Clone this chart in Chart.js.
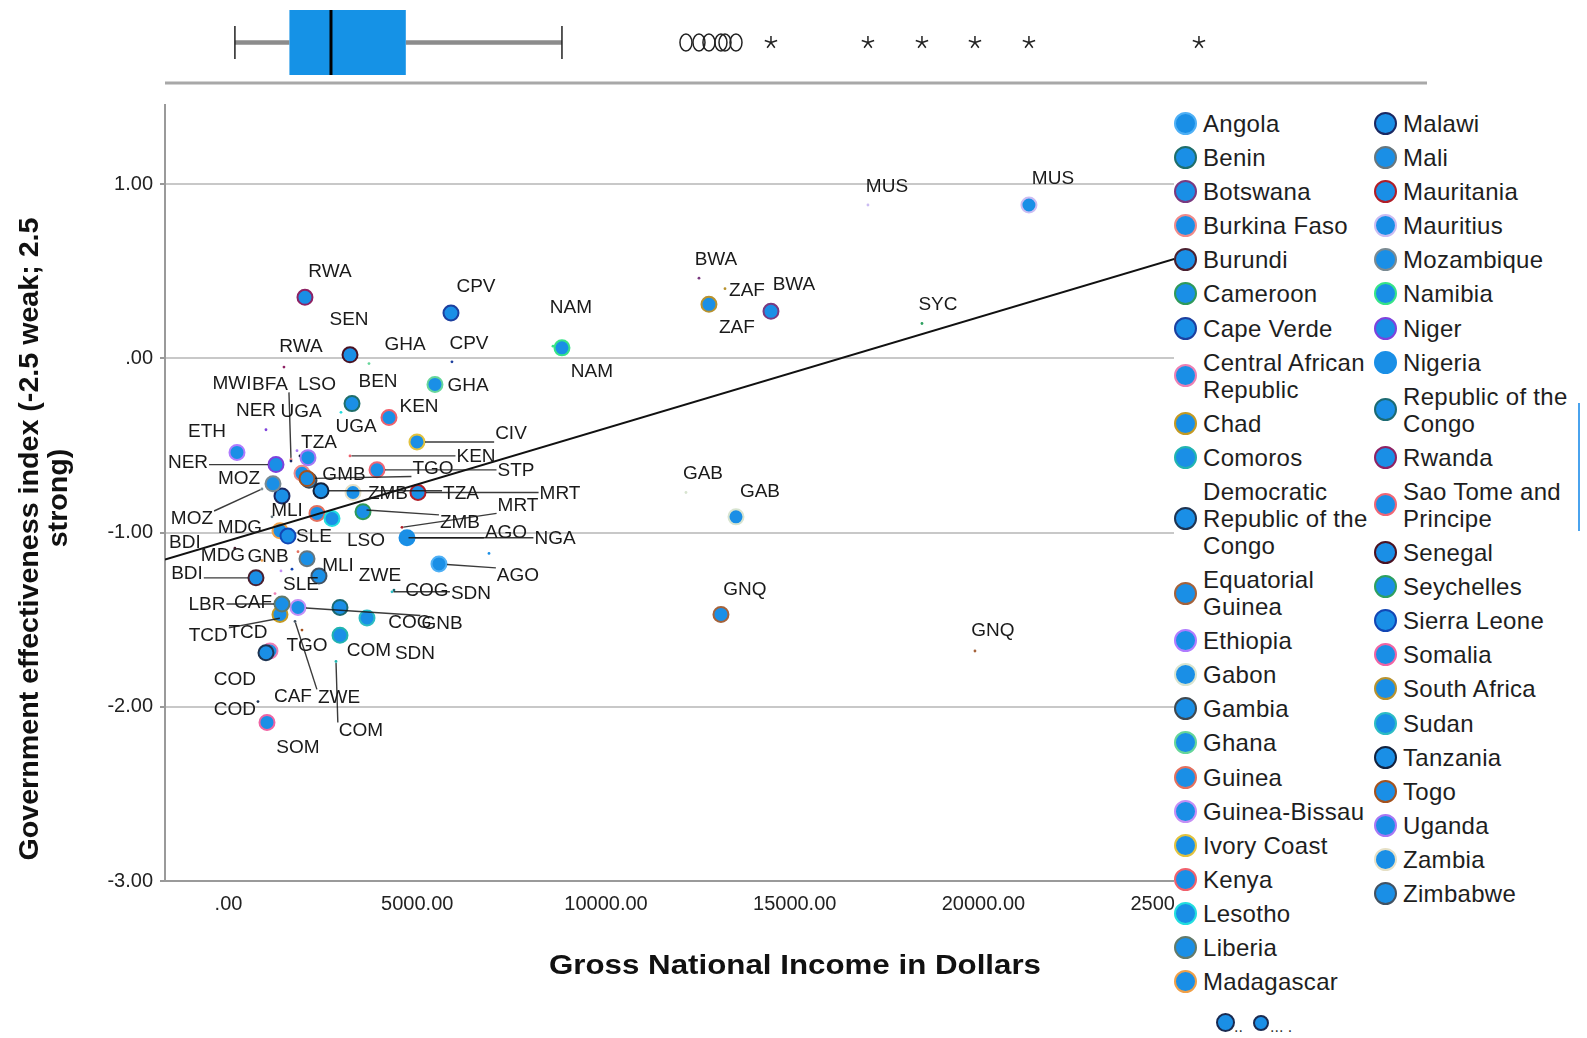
<!DOCTYPE html>
<html>
<head>
<meta charset="utf-8">
<title>Government effectiveness and GNI</title>
<script src="https://cdn.jsdelivr.net/npm/chart.js@4.4.1/dist/chart.umd.min.js"></script>
<style>
  html, body { margin: 0; padding: 0; background: #fff; }
  #page { position: relative; width: 1587px; height: 1038px; overflow: hidden; font-family: "Liberation Sans", Arial, sans-serif; }
  #chart { position: absolute; left: 0; top: 0; }
  #legend { position: absolute; left: 1174px; top: 100px; width: 413px; height: 938px; background: #fff; }
  .col { position: absolute; top: 10px; }
  .item { display: flex; align-items: center; margin-bottom: 7.1px; }
  .dot { width: 19px; height: 19px; border-radius: 50%; border: 2.5px solid; background: #1a8fe6; flex: none; }
  .name { margin-left: 6px; width: 184px; font-size: 24px; line-height: 27px; letter-spacing: 0.3px; color: #1e1e1e; }
  .size-dot { position: absolute; border-radius: 50%; border: 2px solid #1a2a50; background: #1a8fe6; }
  .size-txt { position: absolute; font-size: 16px; color: #333; }
  #handle { position: absolute; left: 1578px; top: 403px; width: 2px; height: 128px; background: #4aa3ee; }
</style>
</head>
<body>
<div id="page">
  <canvas id="chart" width="1587" height="1038"></canvas>
  <div id="legend">
    <div class="col" id="col1" style="left:0"></div>
    <div class="col" id="col2" style="left:200px"></div>
    <div class="size-dot" style="left:42px;top:913px;width:15px;height:15px"></div>
    <div class="size-txt" style="left:60px;top:918px">..</div>
    <div class="size-dot" style="left:79px;top:915px;width:12px;height:12px"></div>
    <div class="size-txt" style="left:96px;top:918px">... .</div>
  </div>
  <div id="handle"></div>
</div>
<script>
// countries in legend order, with their ISO codes used as point labels
const countries = ['Angola', 'Benin', 'Botswana', 'Burkina Faso', 'Burundi', 'Cameroon', 'Cape Verde',
  'Central African Republic', 'Chad', 'Comoros', 'Democratic Republic of the Congo', 'Equatorial Guinea',
  'Ethiopia', 'Gabon', 'Gambia', 'Ghana', 'Guinea', 'Guinea-Bissau', 'Ivory Coast', 'Kenya', 'Lesotho',
  'Liberia', 'Madagascar', 'Malawi', 'Mali', 'Mauritania', 'Mauritius', 'Mozambique', 'Namibia', 'Niger',
  'Nigeria', 'Republic of the Congo', 'Rwanda', 'Sao Tome and Principe', 'Senegal', 'Seychelles',
  'Sierra Leone', 'Somalia', 'South Africa', 'Sudan', 'Tanzania', 'Togo', 'Uganda', 'Zambia', 'Zimbabwe'];
const codes = ['AGO', 'BEN', 'BWA', 'BFA', 'BDI', 'CMR', 'CPV', 'CAF', 'TCD', 'COM', 'COD', 'GNQ', 'ETH', 'GAB',
  'GMB', 'GHA', 'GIN', 'GNB', 'CIV', 'KEN', 'LSO', 'LBR', 'MDG', 'MWI', 'MLI', 'MRT', 'MUS', 'MOZ', 'NAM', 'NER',
  'NGA', 'COG', 'RWA', 'STP', 'SEN', 'SYC', 'SLE', 'SOM', 'ZAF', 'SDN', 'TZA', 'TGO', 'UGA', 'ZMB', 'ZWE'];

// large markers
const gniLarge = [5576, 3272, 14371, 1947, 728, 3563, 5894, 1099, 1364, 2954, 993, 13046, 225, 13444, 2133,
  5470, 2344, 1841, 4993, 4252, 2742, 1417, 1364, 1417, 2080, 5020, 21205, 1179, 8834, 1258, 4729, 2954, 2026,
  3934, 3219, 25709, 1576, 1020, 12728, 3669, 2450, 2080, 2106, 3298, 2397];
const govLarge = [-1.18, -0.26, 0.27, -0.66, -1.26, -0.88, 0.26, -1.68, -1.47, -1.59, -1.69, -1.47, -0.54, -0.91,
  -0.70, -0.15, -0.89, -1.43, -0.48, -0.34, -0.92, -1.41, -0.99, -0.79, -1.15, -0.77, 0.88, -0.72, 0.06, -0.61,
  -1.03, -1.43, 0.35, -0.64, 0.02, 0.35, -1.02, -2.09, 0.31, -1.49, -0.76, -0.69, -0.57, -0.77, -1.25];

// small markers
const gniSmall = [4729, 3250, 12464, 1656, 170, 3540, 5920, 1232, 1398, 2848, 781, 19775, 250, 12119, 2150,
  3722, 1841, 1391, 4970, 3219, 2980, 1430, 887, 1656, 1152, 4596, 16940, 887, 8596, 993, 6901, 4384, 1470,
  3950, 3240, 18371, 1682, 1040, 13153, 4331, 1894, 1947, 1815, 3616, 1762];
const govSmall = [-1.03, -0.26, 0.46, -0.58, -1.09, -0.88, -0.02, -1.35, -1.49, -1.74, -1.97, -1.68, -0.55, -0.77,
  -0.70, -0.03, -1.11, -1.22, -0.48, -0.56, -0.31, -1.41, -1.16, -0.59, -0.91, -0.97, 0.88, -0.75, 0.07, -0.41,
  -1.12, -1.33, -0.05, -0.64, 0.02, 0.20, -1.21, -2.09, 0.40, -1.34, -0.56, -1.56, -0.53, -0.87, -1.51];

// box plot of GNI: whisker low, Q1, median, Q3, whisker high
const gniBox = [170, 1614, 2715, 4697, 8834];

// linear fit
const fitIntercept = -1.046;
const fitSlope = 0.0000645;

const xRange = [-1682, 31750];
const yRange = [-3, 1.454];
const xTicks = [0, 5000, 10000, 15000, 20000, 25000];
const xTickLabels = ['.00', '5000.00', '10000.00', '15000.00', '20000.00', '25000.00'];
const yTicks = [-3, -2, -1, 0, 1];
const yTickLabels = ['-3.00', '-2.00', '-1.00', '.00', '1.00'];

const xTitle = 'Gross National Income in Dollars';
const yTitle = ['Government effectiveness index (-2.5 weak; 2.5', 'strong)'];

const markerFill = '#1a8fe6';
const ringColors = ['#4fb0f5', '#1f6e6a', '#7a3a80', '#f08a8a', '#4a2030', '#2f9a5a', '#1c3f9e', '#ec80b4',
  '#c49a22', '#22b4b0', '#1e3452', '#a5623a', '#b07cff', '#d8e4d0', '#3e4850', '#66d69a', '#e4705e', '#c58ff5',
  '#e2c23e', '#f0606c', '#22dede', '#627a6a', '#f0a048', '#1a2862', '#66767e', '#b01e28', '#cbbcf2', '#7a8a92',
  '#36e488', '#7e42dc', '#1a8fe6', '#1c6a72', '#8e2264', '#f06676', '#4a1222', '#2ea060', '#1246b4', '#f064a4',
  '#b8922e', '#2cbcc4', '#12223e', '#a4521e', '#a878f4', '#e6e0c6', '#425262'];

// label placement in pixels from the marker: [dx, dy, leader line]
const largeLabelPos = [[79, 12, 1], [26, -22, 0], [23, -27, 0], null, [-69, -4, 1], null, [25, -26, 0],
  [23, 46, 0], [-32, 18, 0], [29, 15, 0], [-31, 27, 0], [24, -25, 0], [-30, -21, 0], [24, -25, 0], [35, -6, 0],
  [33, 1, 0], null, [144, 16, 1], [94, -8, 1], [30, -11, 0], [34, 22, 0], [-75, 1, 1], [-40, -3, 0], null,
  [31, 7, 0], [142, 1, 1], [24, -26, 0], [-34, -5, 0], [30, 24, 0], [-88, -2, 1], [148, 1, 1], [70, 15, 0],
  [25, -26, 0], [139, 1, 1], [-1, -35, 0], [24, -26, 0], [26, 1, 0], [31, 25, 0], [28, 23, 0], [48, 36, 0],
  [140, 3, 1], [126, -10, 1], [48, -31, 0], [35, 1, 0], [61, 0, 0]];
const smallLabelPos = [[99, -5, 1], null, [17, -18, 0], [-21, -75, 1], [-50, -5, 0], null, [17, -18, 0],
  [-22, 9, 0], [-73, 18, 1], [25, 69, 1], [-23, 8, 0], [18, -20, 0], null, [17, -19, 0], null, [36, -19, 0],
  null, [-13, -14, 0], null, [126, 1, 1], [-24, -28, 0], null, [-39, -5, 0], [-59, -77, 0], [15, -6, 0],
  [116, -22, 1], [19, -18, 0], [-70, 30, 1], [18, -38, 0], [-10, -19, 0], null, [33, 1, 0], [17, -20, 0],
  null, null, [16, -19, 0], [9, 16, 0], null, [22, 2, 0], [79, 2, 1], [19, -13, 0], [5, 16, 0], [4, -39, 0],
  [95, 13, 1], [44, 76, 1]];

const FONT = '"Liberation Sans", Arial, sans-serif';

// legend on the right, two columns
countries.forEach((name, i) => {
  const col = document.getElementById(i < 23 ? 'col1' : 'col2');
  const item = document.createElement('div');
  item.className = 'item';
  item.innerHTML = '<span class="dot" style="border-color:' + ringColors[i] + '"></span><span class="name">' + name + '</span>';
  col.appendChild(item);
});

function drawStar(ctx, cx, cy) {
  ctx.beginPath();
  for (let k = 0; k < 5; k++) {
    const a = -Math.PI / 2 + k * 2 * Math.PI / 5;
    ctx.moveTo(cx, cy);
    ctx.lineTo(cx + 6.5 * Math.cos(a), cy + 6.5 * Math.sin(a));
  }
  ctx.stroke();
}

const boxPlot = {
  id: 'boxPlot',
  afterDraw(chart) {
    const { ctx, chartArea, scales: { x } } = chart;
    const [lo, q1, med, q3, hi] = gniBox;
    const px = v => x.getPixelForValue(v);
    const cy = 42.5, top = 10, bottom = 75;
    ctx.save();
    ctx.strokeStyle = '#a8a8a8';
    ctx.lineWidth = 3;
    ctx.beginPath();
    ctx.moveTo(chartArea.left, 83);
    ctx.lineTo(chartArea.right, 83);
    ctx.stroke();
    // whiskers
    ctx.strokeStyle = '#8c8c8c';
    ctx.lineWidth = 4.5;
    ctx.beginPath();
    ctx.moveTo(px(lo), cy); ctx.lineTo(px(q1), cy);
    ctx.moveTo(px(q3), cy); ctx.lineTo(px(hi), cy);
    ctx.stroke();
    ctx.strokeStyle = '#222';
    ctx.lineWidth = 1.5;
    ctx.beginPath();
    [lo, hi].forEach(v => { ctx.moveTo(px(v), 26); ctx.lineTo(px(v), 59); });
    ctx.stroke();
    // box and median
    ctx.fillStyle = '#1592e6';
    ctx.fillRect(px(q1), top, px(q3) - px(q1), bottom - top);
    ctx.strokeStyle = '#000';
    ctx.lineWidth = 3;
    ctx.beginPath();
    ctx.moveTo(px(med), top); ctx.lineTo(px(med), bottom);
    ctx.stroke();
    // outliers (circles) and extremes (stars)
    const iqr = q3 - q1;
    ctx.strokeStyle = '#222';
    ctx.lineWidth = 1.5;
    gniLarge.concat(gniSmall).forEach(v => {
      if (v > q3 + 3 * iqr) {
        drawStar(ctx, px(v), cy);
      } else if (v > q3 + 1.5 * iqr) {
        ctx.beginPath();
        ctx.ellipse(px(v), cy, 6, 8.5, 0, 0, Math.PI * 2);
        ctx.stroke();
      }
    });
    ctx.restore();
  }
};

const pointLabels = {
  id: 'pointLabels',
  afterDatasetsDraw(chart) {
    const ctx = chart.ctx;
    ctx.save();
    ctx.font = '19px ' + FONT;
    ctx.textAlign = 'center';
    ctx.textBaseline = 'middle';
    [[2, smallLabelPos, 1.5], [1, largeLabelPos, 8]].forEach(([dsIndex, positions, r]) => {
      const meta = chart.getDatasetMeta(dsIndex);
      positions.forEach((pos, i) => {
        if (!pos) return;
        const p = meta.data[i];
        const lx = p.x + pos[0], ly = p.y + pos[1];
        if (pos[2]) {
          const hw = ctx.measureText(codes[i]).width / 2 + 1;
          const ex = Math.min(Math.max(p.x, lx - hw), lx + hw);
          const ey = Math.min(Math.max(p.y, ly - 8), ly + 8);
          const d = Math.hypot(ex - p.x, ey - p.y) || 1;
          ctx.strokeStyle = 'rgba(25,25,25,0.85)';
          ctx.lineWidth = 1.4;
          ctx.beginPath();
          ctx.moveTo(p.x + (ex - p.x) * r / d, p.y + (ey - p.y) * r / d);
          ctx.lineTo(ex, ey);
          ctx.stroke();
        }
        ctx.fillStyle = '#1a1a1a';
        ctx.fillText(codes[i], lx, ly);
      });
    });
    ctx.restore();
  }
};

function fitText(ctx, text, cx, cy, width) {
  const s = width / ctx.measureText(text).width;
  ctx.save();
  ctx.translate(cx, cy);
  ctx.scale(s, 1);
  ctx.fillText(text, 0, 0);
  ctx.restore();
}

const axisTitles = {
  id: 'axisTitles',
  afterDraw(chart) {
    const ctx = chart.ctx;
    ctx.save();
    ctx.fillStyle = '#111';
    ctx.textAlign = 'center';
    ctx.textBaseline = 'middle';
    ctx.font = 'bold 28px ' + FONT;
    fitText(ctx, xTitle, 795, 966, 492);
    // rotated y title, two lines
    const s = 643 / ctx.measureText(yTitle[0]).width;
    [[yTitle[0], 30, 539], [yTitle[1], 59, 498]].forEach(([t, x, y]) => {
      ctx.save();
      ctx.translate(x, y);
      ctx.rotate(-Math.PI / 2);
      ctx.scale(s, 1);
      ctx.fillText(t, 0, 0);
      ctx.restore();
    });
    ctx.restore();
  }
};

const fitPoints = xRange.map(x => ({ x: x, y: fitIntercept + fitSlope * x }));

new Chart(document.getElementById('chart'), {
  type: 'scatter',
  data: {
    datasets: [
      {
        label: 'Fit',
        data: fitPoints,
        showLine: true,
        borderColor: '#111',
        borderWidth: 2,
        pointRadius: 0,
        order: 0
      },
      {
        label: 'Large',
        data: gniLarge.map((x, i) => ({ x: x, y: govLarge[i] })),
        pointRadius: 7.5,
        pointBorderWidth: 2,
        pointBackgroundColor: markerFill,
        pointBorderColor: ringColors,
        order: 1
      },
      {
        label: 'Small',
        data: gniSmall.map((x, i) => ({ x: x, y: govSmall[i] })),
        pointRadius: 1.4,
        pointBorderWidth: 0,
        pointBackgroundColor: ringColors,
        pointBorderColor: ringColors,
        order: 2
      }
    ]
  },
  options: {
    responsive: false,
    animation: false,
    events: [],
    layout: { padding: { top: 105, right: 160, left: 0, bottom: 0 } },
    plugins: {
      legend: { display: false },
      tooltip: { enabled: false }
    },
    scales: {
      x: {
        type: 'linear',
        min: xRange[0],
        max: xRange[1],
        afterBuildTicks: s => { s.ticks = xTicks.map(v => ({ value: v })); },
        afterFit: s => { s.height = 157; },
        ticks: {
          autoSkip: false,
          maxRotation: 0,
          padding: 11,
          color: '#222',
          font: { family: FONT, size: 20 },
          callback: v => xTickLabels[xTicks.indexOf(v)]
        },
        grid: { drawOnChartArea: false, drawTicks: false },
        border: { color: '#9a9a9a', width: 2 }
      },
      y: {
        min: yRange[0],
        max: yRange[1],
        afterBuildTicks: s => { s.ticks = yTicks.map(v => ({ value: v })); },
        afterFit: s => { s.width = 165; },
        ticks: {
          padding: 7,
          color: '#222',
          font: { family: FONT, size: 20 },
          callback: v => yTickLabels[yTicks.indexOf(v)]
        },
        grid: {
          color: c => (c.tick && c.tick.value === -3 ? 'rgba(0,0,0,0)' : '#c8c8c8'),
          lineWidth: 2,
          tickLength: 5,
          tickColor: '#999'
        },
        border: { color: '#9a9a9a', width: 2 }
      }
    }
  },
  plugins: [boxPlot, pointLabels, axisTitles]
});
</script>
</body>
</html>
